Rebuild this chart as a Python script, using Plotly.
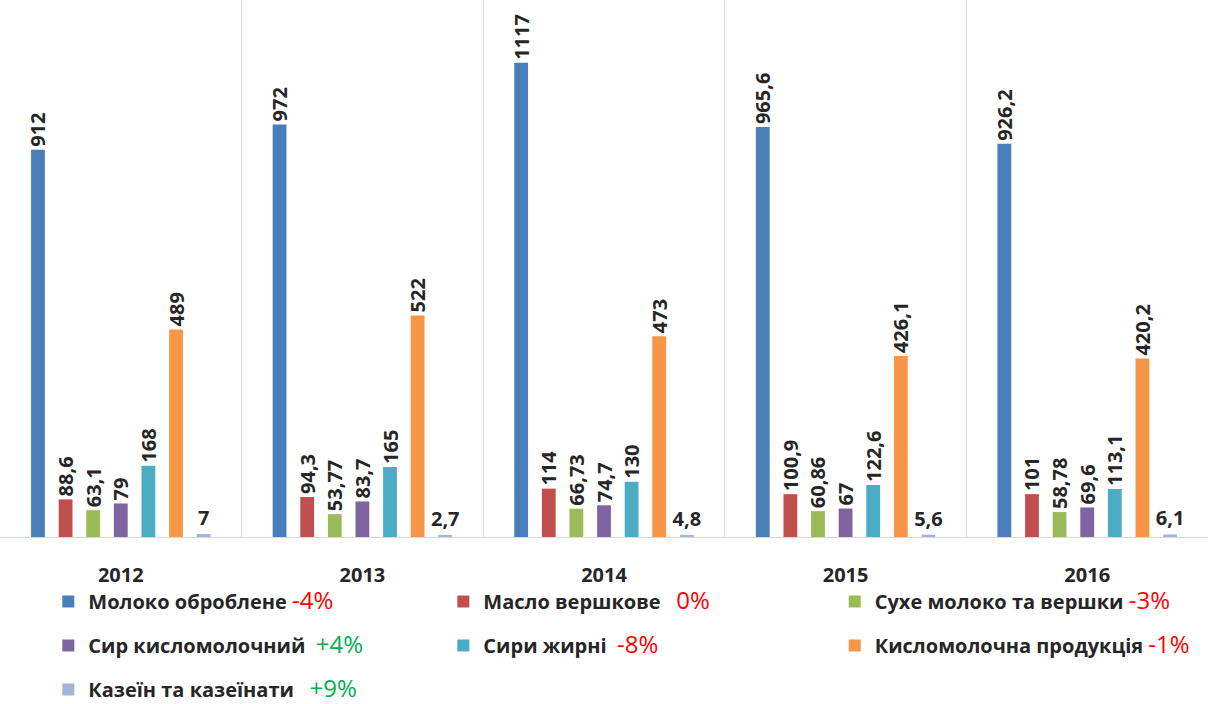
import plotly.graph_objects as go

years = ["2012", "2013", "2014", "2015", "2016"]
series_names = [
    "Молоко оброблене",
    "Масло вершкове",
    "Сухе молоко та вершки",
    "Сир кисломолочний",
    "Сири жирні",
    "Кисломолочна продукція",
    "Казеїн та казеїнати",
]
changes = ["-4%", "0%", "-3%", "+4%", "-8%", "-1%", "+9%"]
values = [
    [912, 972, 1117, 965.6, 926.2],
    [88.6, 94.3, 114, 100.9, 101],
    [63.1, 53.77, 66.73, 60.86, 58.78],
    [79, 83.7, 74.7, 67, 69.6],
    [168, 165, 130, 122.6, 113.1],
    [489, 522, 473, 426.1, 420.2],
    [7, 2.7, 4.8, 5.6, 6.1],
]
colors = ["#4a7ebb", "#c0504d", "#9bbb59", "#8064a2", "#4bacc6", "#f79646", "#a5b4d6"]
legend_of = ["legend", "legend2", "legend3", "legend", "legend2", "legend3", "legend"]
gaps = ["&nbsp;", "&nbsp;&nbsp;&nbsp;", "&nbsp;", "&nbsp;&nbsp;", "&nbsp;&nbsp;", "&nbsp;", "&nbsp;&nbsp;&nbsp;"]

FONT = "Open Sans"


def fmt(v):
    return f"{v:g}".replace(".", ",")


fig = go.Figure()
for i, name in enumerate(series_names):
    ch = changes[i]
    ch_color = "#00b050" if ch.startswith("+") else "#ff0000"
    label = (f"<b>{name}</b>{gaps[i]}<span style='color:{ch_color};font-size:24px'>{ch}</span>")
    last = i == len(series_names) - 1
    fig.add_trace(go.Bar(
        x=years,
        y=values[i],
        name=label,
        marker=dict(color=colors[i], line=dict(width=0)),
        text=[f"<b>{fmt(v)}</b>" for v in values[i]],
        textposition="outside",
        textangle=0 if last else -90,
        textfont=dict(family=FONT, size=20, color="#262626"),
        constraintext="none",
        cliponaxis=False,
        legend=legend_of[i],
        legendgroup=f"g{i}",
    ))

legend_common = dict(
    orientation="v",
    yanchor="top",
    xanchor="left",
    font=dict(family=FONT, size=20, color="#262626"),
    tracegroupgap=15,
    bgcolor="rgba(0,0,0,0)",
    itemwidth=30,
)

fig.update_layout(
    width=1208,
    height=704,
    margin=dict(l=0, r=0, t=0, b=167, autoexpand=False),
    paper_bgcolor="white",
    plot_bgcolor="white",
    barmode="group",
    bargap=0.2,
    bargroupgap=0.5,
    showlegend=True,
    legend=dict(x=0.040, y=-0.084, **legend_common),
    legend2=dict(x=0.367, y=-0.084, **legend_common),
    legend3=dict(x=0.691, y=-0.084, **legend_common),
    xaxis=dict(
        type="category",
        tickson="boundaries",
        showgrid=True,
        gridcolor="#d9d9d9",
        gridwidth=1,
        showline=True,
        linecolor="#d9d9d9",
        ticks="",
        ticklabelstandoff=20,
        tickfont=dict(family=FONT, size=20, color="#262626", weight="bold"),
    ),
    yaxis=dict(visible=False, range=[0, 1265], showgrid=False, zeroline=False),
)

fig.write_html("out.html", config={"displayModeBar": False},
               post_script="document.body.style.margin='0';")
